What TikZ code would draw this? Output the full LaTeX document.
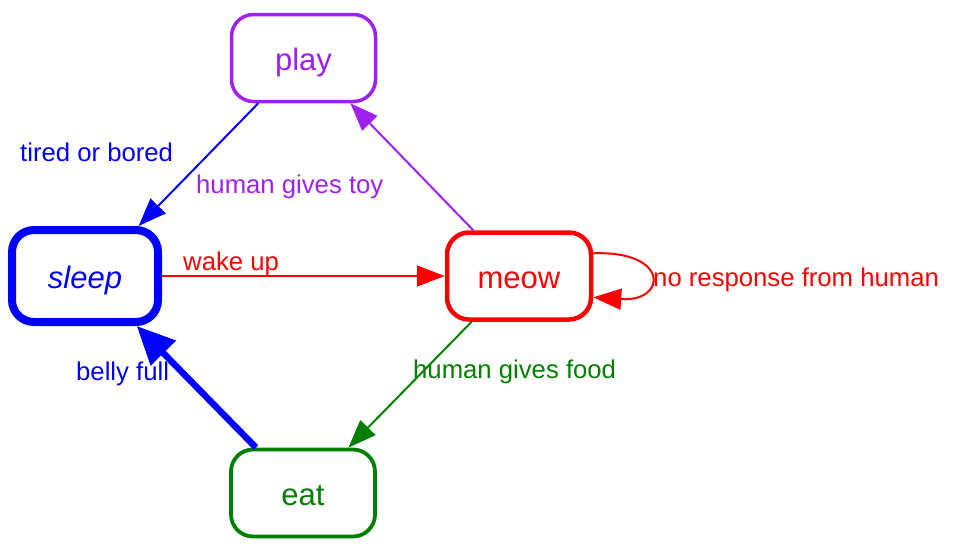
\documentclass[tikz,border=0pt]{standalone}
\usepackage{fontspec}
\setmainfont{Liberation Sans}
\usetikzlibrary{arrows.meta}
\definecolor{gvpurple}{RGB}{160,32,240}
\definecolor{gvgreen}{RGB}{0,128,0}
\definecolor{gvblue}{RGB}{0,0,255}
\definecolor{gvred}{RGB}{255,0,0}
\begin{document}
\begin{tikzpicture}[x=1pt,y=-1pt,
 state/.style={draw=#1, text=#1, rounded corners=22pt, fill=white, minimum width=144pt, minimum height=87pt,
   inner sep=0pt, text height=24pt, text depth=0pt, font=\fontsize{31}{31}\selectfont},
 elabel/.style={anchor=base west, inner sep=0pt, font=\fontsize{25.7}{30}\selectfont},
 conn/.style={line width=2pt, -{Triangle[length=28pt,width=21pt]}},
 thickconn/.style={line width=6.5pt, -{Triangle[length=38pt,width=34pt]}},
]
\useasboundingbox (0,0) rectangle (976,552);
\node[state=gvpurple, line width=3.5pt] (play) at (303.5,58) {play};
\node[state=gvblue, line width=8pt, minimum width=146pt, minimum height=92pt] (sleep) at (85,276) {\itshape sleep};
\node[state=gvred, line width=4.5pt] (meow) at (519,276) {meow};
\node[state=gvgreen, line width=3.8pt] (eat) at (303,493) {eat};

\draw[conn, gvblue] (play.225) -- (sleep.43);
\draw[conn, gvpurple] (meow.135) -- (play.-44);
\draw[conn, gvred] (sleep.east) -- (meow.west);
\draw[conn, gvgreen] (meow.-136) -- (eat.45);
\draw[thickconn, gvblue] (eat.136) -- (sleep.-44);
\draw[conn, gvred] (meow.17) .. controls +(77,-3) and +(74,5) .. (meow.-16);

\node[elabel, gvblue] (l1) at (20,161) {tired or bored};
\node[elabel, gvpurple] (l2) at (196,193) {human gives toy};
\node[elabel, gvred] (l3) at (183,270) {wake up};
\node[elabel, gvred] (l4) at (653,286) {no response from human};
\node[elabel, gvgreen] (l5) at (413,378) {human gives food};
\node[elabel, gvblue] (l6) at (76,380) {belly full};
\end{tikzpicture}
\end{document}
